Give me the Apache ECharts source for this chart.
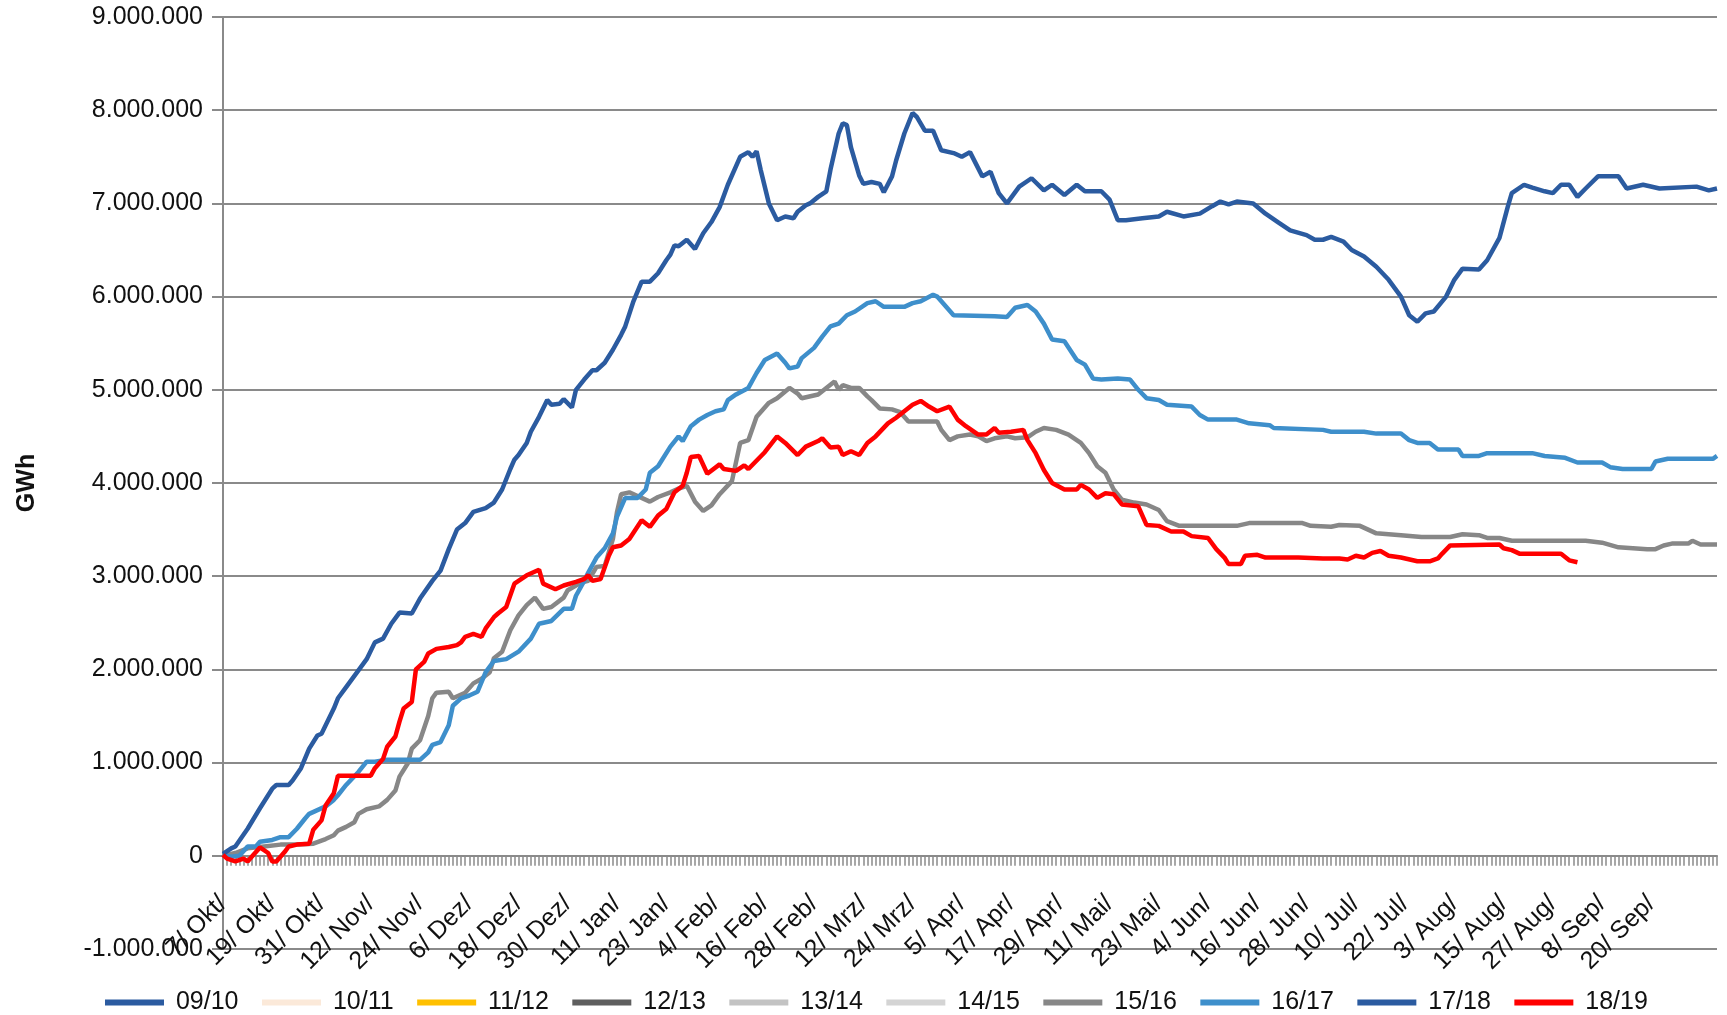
<!DOCTYPE html>
<html>
<head>
<meta charset="utf-8">
<title>Speicherstand GWh</title>
<script src="https://cdn.jsdelivr.net/npm/echarts@6/dist/echarts.min.js"></script>
<style>
	html, body { margin: 0; padding: 0; background: #fff; }
	#main { width: 1727px; height: 1015px; }
</style>
</head>
<body>
<div id="main"></div>
<script>
// x axis: one category per day, first day 7 Okt
var startDate = Date.UTC(2018, 9, 7);
var dayCount = 365;
var monthNames = ['Jan', 'Feb', 'Mrz', 'Apr', 'Mai', 'Jun', 'Jul', 'Aug', 'Sep', 'Okt', 'Nov', 'Dez'];

var seasons = ['09/10', '10/11', '11/12', '12/13', '13/14', '14/15', '15/16', '16/17', '17/18', '18/19'];
var seasonColors = ['#2b5ba0', '#fbe9d9', '#ffc000', '#5f5f5f', '#c3c3c3', '#d4d4d4', '#878787', '#3e8fcb', '#2b5ba0', '#ff0000'];

// [day index, value in million GWh]
var s1516 = [[0,0.0],[3,0.03],[6,0.08],[10,0.1],[14,0.12],[18,0.12],[22,0.13],[25,0.18],[27,0.22],[28,0.27],[30,0.31],[32,0.36],[33,0.45],[35,0.5],[38,0.53],[40,0.6],[42,0.7],[43,0.85],[45,0.99],[46,1.15],[48,1.24],[50,1.5],[51,1.69],[52,1.75],[55,1.76],[56,1.69],[59,1.75],[61,1.85],[63,1.9],[65,1.97],[66,2.12],[68,2.19],[70,2.42],[72,2.58],[74,2.69],[76,2.77],[78,2.65],[80,2.67],[83,2.77],[84,2.85],[86,2.9],[88,2.94],[89,2.95],[91,3.1],[93,3.11],[95,3.4],[96,3.69],[97,3.88],[99,3.9],[101,3.86],[102,3.84],[104,3.8],[106,3.85],[109,3.9],[111,3.94],[113,3.97],[115,3.8],[117,3.7],[119,3.76],[121,3.88],[124,4.02],[126,4.43],[128,4.46],[130,4.71],[133,4.86],[135,4.91],[138,5.02],[140,4.96],[141,4.91],[145,4.95],[147,5.02],[149,5.09],[150,5.0],[151,5.05],[153,5.02],[155,5.02],[157,4.93],[158,4.89],[160,4.8],[163,4.79],[165,4.76],[167,4.66],[174,4.66],[175,4.57],[177,4.46],[179,4.5],[182,4.52],[184,4.5],[186,4.45],[188,4.48],[191,4.5],[193,4.48],[196,4.49],[198,4.55],[200,4.59],[203,4.57],[206,4.52],[209,4.43],[211,4.32],[213,4.18],[215,4.11],[217,3.93],[219,3.82],[222,3.79],[225,3.77],[228,3.71],[230,3.59],[233,3.54],[247,3.54],[250,3.57],[263,3.57],[265,3.54],[270,3.53],[272,3.55],[277,3.54],[281,3.46],[287,3.44],[292,3.42],[299,3.42],[302,3.45],[306,3.44],[308,3.41],[311,3.41],[314,3.38],[332,3.38],[336,3.36],[340,3.31],[347,3.29],[349,3.29],[351,3.33],[353,3.35],[357,3.35],[358,3.38],[360,3.34],[364,3.34]];

var s1617 = [[0,0.01],[2,-0.01],[4,0.0],[6,0.1],[8,0.1],[9,0.15],[12,0.17],[14,0.2],[16,0.2],[18,0.29],[20,0.4],[21,0.45],[23,0.49],[25,0.53],[27,0.6],[28,0.65],[30,0.76],[33,0.9],[35,1.01],[37,1.01],[40,1.03],[44,1.03],[48,1.03],[50,1.11],[51,1.19],[53,1.22],[55,1.4],[56,1.61],[58,1.69],[60,1.72],[62,1.76],[64,1.97],[66,2.09],[69,2.11],[72,2.19],[75,2.33],[77,2.49],[80,2.52],[83,2.65],[85,2.65],[86,2.79],[88,2.95],[89,3.04],[91,3.2],[93,3.3],[95,3.46],[96,3.64],[98,3.84],[101,3.84],[103,3.93],[104,4.11],[106,4.18],[109,4.39],[111,4.5],[112,4.45],[114,4.61],[116,4.68],[118,4.73],[120,4.77],[122,4.79],[123,4.89],[125,4.95],[128,5.02],[130,5.18],[132,5.32],[135,5.39],[137,5.29],[138,5.23],[140,5.25],[141,5.34],[144,5.45],[146,5.57],[148,5.68],[150,5.71],[152,5.8],[154,5.84],[157,5.93],[159,5.95],[161,5.89],[166,5.89],[168,5.93],[170,5.95],[173,6.02],[174,6.0],[178,5.8],[188,5.79],[191,5.78],[193,5.88],[196,5.91],[198,5.84],[200,5.71],[202,5.54],[205,5.52],[208,5.32],[210,5.27],[212,5.12],[214,5.11],[218,5.12],[221,5.11],[223,5.0],[225,4.91],[228,4.89],[230,4.84],[236,4.82],[238,4.73],[240,4.68],[247,4.68],[250,4.64],[255,4.62],[256,4.59],[268,4.57],[270,4.55],[278,4.55],[281,4.53],[287,4.53],[289,4.46],[291,4.43],[294,4.43],[296,4.36],[301,4.36],[302,4.29],[306,4.29],[308,4.32],[319,4.32],[322,4.29],[327,4.27],[330,4.22],[336,4.22],[338,4.17],[341,4.15],[348,4.15],[349,4.23],[352,4.26],[363,4.26],[364,4.29]];

var s1718 = [[0,0.02],[2,0.08],[3,0.1],[6,0.29],[9,0.51],[12,0.72],[13,0.76],[16,0.76],[17,0.81],[19,0.94],[21,1.15],[23,1.29],[24,1.31],[27,1.58],[28,1.69],[30,1.81],[33,1.99],[35,2.11],[37,2.29],[39,2.33],[41,2.49],[43,2.61],[46,2.6],[48,2.76],[51,2.95],[53,3.06],[55,3.29],[57,3.5],[59,3.57],[61,3.69],[64,3.73],[66,3.79],[68,3.93],[70,4.15],[71,4.25],[72,4.3],[74,4.43],[75,4.55],[77,4.71],[79,4.89],[80,4.84],[82,4.85],[83,4.9],[85,4.81],[86,5.0],[88,5.11],[90,5.21],[91,5.21],[93,5.29],[95,5.43],[97,5.59],[98,5.68],[100,5.95],[102,6.16],[104,6.16],[106,6.25],[108,6.39],[109,6.45],[110,6.55],[111,6.54],[113,6.61],[115,6.51],[117,6.68],[119,6.8],[121,6.96],[123,7.2],[126,7.5],[128,7.55],[129,7.5],[130,7.56],[131,7.36],[133,7.0],[135,6.82],[137,6.86],[139,6.84],[140,6.91],[142,6.98],[143,7.0],[145,7.07],[147,7.13],[148,7.36],[150,7.75],[151,7.86],[152,7.84],[153,7.6],[155,7.3],[156,7.21],[158,7.23],[160,7.21],[161,7.12],[163,7.29],[164,7.46],[166,7.75],[168,7.97],[169,7.93],[171,7.78],[173,7.78],[175,7.57],[178,7.54],[180,7.5],[182,7.55],[185,7.29],[187,7.34],[189,7.11],[191,7.0],[194,7.18],[197,7.27],[200,7.14],[202,7.2],[205,7.09],[208,7.2],[210,7.13],[214,7.13],[216,7.04],[218,6.82],[220,6.82],[224,6.84],[228,6.86],[230,6.91],[234,6.86],[238,6.89],[241,6.97],[243,7.02],[245,6.99],[247,7.02],[251,7.0],[254,6.89],[257,6.8],[260,6.71],[264,6.66],[266,6.61],[268,6.61],[270,6.64],[273,6.59],[275,6.5],[278,6.43],[281,6.32],[284,6.18],[287,6.0],[289,5.8],[291,5.73],[293,5.82],[295,5.84],[298,6.0],[300,6.18],[302,6.3],[306,6.29],[308,6.39],[311,6.63],[313,6.96],[314,7.11],[317,7.2],[319,7.17],[322,7.13],[324,7.11],[326,7.2],[328,7.2],[330,7.07],[332,7.16],[335,7.29],[340,7.29],[342,7.16],[346,7.2],[350,7.16],[359,7.18],[362,7.14],[364,7.16]];

var s1819 = [[0,0.01],[1,-0.03],[3,-0.06],[5,-0.03],[6,-0.06],[7,-0.01],[9,0.09],[11,0.03],[12,-0.06],[13,-0.06],[15,0.04],[16,0.1],[18,0.12],[21,0.13],[22,0.28],[24,0.38],[25,0.54],[27,0.67],[28,0.86],[36,0.86],[37,0.94],[39,1.04],[40,1.17],[42,1.28],[43,1.44],[44,1.58],[46,1.65],[47,2.0],[49,2.08],[50,2.17],[52,2.22],[55,2.24],[57,2.26],[58,2.29],[59,2.35],[61,2.38],[63,2.35],[64,2.44],[66,2.56],[67,2.6],[69,2.67],[71,2.92],[74,3.01],[77,3.07],[78,2.92],[81,2.86],[83,2.9],[86,2.94],[88,2.97],[89,3.01],[90,2.95],[92,2.97],[94,3.22],[95,3.31],[97,3.33],[99,3.4],[102,3.6],[104,3.53],[106,3.65],[108,3.72],[110,3.9],[112,3.97],[113,4.11],[114,4.28],[116,4.29],[118,4.1],[121,4.2],[122,4.15],[125,4.13],[127,4.19],[128,4.15],[132,4.33],[135,4.5],[137,4.43],[140,4.3],[142,4.39],[145,4.45],[146,4.48],[148,4.38],[150,4.39],[151,4.3],[153,4.34],[155,4.3],[157,4.43],[159,4.5],[162,4.64],[164,4.7],[166,4.77],[168,4.84],[170,4.88],[172,4.82],[174,4.77],[177,4.82],[179,4.68],[181,4.61],[184,4.52],[186,4.52],[188,4.59],[189,4.54],[192,4.55],[195,4.57],[196,4.46],[198,4.32],[200,4.14],[202,4.0],[205,3.93],[208,3.93],[209,3.98],[211,3.93],[213,3.84],[215,3.89],[217,3.88],[219,3.77],[223,3.75],[225,3.55],[228,3.54],[231,3.48],[234,3.48],[236,3.43],[240,3.41],[242,3.29],[244,3.2],[245,3.13],[248,3.13],[249,3.22],[252,3.23],[254,3.2],[262,3.2],[268,3.19],[272,3.19],[274,3.18],[276,3.22],[278,3.2],[280,3.25],[282,3.27],[284,3.22],[287,3.2],[291,3.16],[294,3.16],[296,3.19],[297,3.24],[299,3.33],[311,3.34],[312,3.3],[314,3.28],[316,3.24],[326,3.24],[328,3.17],[330,3.15]];

// seasons without a visible line only show up in the legend
var seasonData = {
	'15/16': s1516,
	'16/17': s1617,
	'17/18': s1718,
	'18/19': s1819
};

showchart();

function showchart() {
	var myChart = echarts.init(document.getElementById('main'));

	var categories = [];
	for (var i = 0; i < dayCount; i++) {
		var d = new Date(startDate + i * 86400000);
		categories.push(d.getUTCDate() + '/ ' + monthNames[d.getUTCMonth()] + '/');
	}

	var font = '"Liberation Sans", Arial, sans-serif';
	var gridTop = 17;
	var gridBottom = 66;
	// x axis sits on the zero line, one step (of ten) above the grid bottom
	var zeroOffset = -(1015 - gridTop - gridBottom) / 10;

	var series = seasons.map(function(name, idx) {
		var pts = seasonData[name] || [];
		return {
			name: name,
			type: 'line',
			color: seasonColors[idx],
			showSymbol: false,
			symbol: 'none',
			lineStyle: { width: 4.5, color: seasonColors[idx] },
			data: pts.map(function(p) { return [p[0], p[1] * 1000000]; })
		};
	});

	var option = {
		animation: false,
		backgroundColor: '#fff',
		grid: {
			left: 223,
			right: 10,
			top: gridTop,
			bottom: gridBottom,
			containLabel: false,
			outerBoundsMode: 'none'
		},
		legend: {
			left: 100,
			top: 985,
			icon: 'rect',
			itemWidth: 59,
			itemHeight: 6,
			itemGap: 23.5,
			formatter: ' {name}',
			textStyle: {
				fontFamily: font,
				fontSize: 25,
				color: '#111'
			},
			data: seasons
		},
		xAxis: {
			type: 'category',
			boundaryGap: false,
			data: categories,
			offset: zeroOffset,
			axisLine: {
				onZero: false,
				lineStyle: { color: '#8a8a8a', width: 2 }
			},
			axisTick: {
				show: true,
				interval: 0,
				length: 10,
				lineStyle: { color: '#8a8a8a', width: 1.5 }
			},
			axisLabel: {
				interval: function(index) { return index % 12 === 0 && index <= 348; },
				rotate: 45,
				margin: 44,
				fontFamily: font,
				fontSize: 25,
				color: '#111'
			},
			splitLine: { show: false }
		},
		yAxis: {
			type: 'value',
			min: -1000000,
			max: 9000000,
			interval: 1000000,
			name: 'GWh',
			nameLocation: 'middle',
			nameRotate: 90,
			nameGap: 183,
			nameTextStyle: {
				fontFamily: font,
				fontSize: 25,
				fontWeight: 'bold',
				color: '#111'
			},
			axisLine: {
				show: true,
				lineStyle: { color: '#8a8a8a', width: 2 }
			},
			axisTick: {
				show: true,
				length: 11,
				lineStyle: { color: '#8a8a8a', width: 2 }
			},
			axisLabel: {
				margin: 20,
				fontFamily: font,
				fontSize: 25,
				color: '#111',
				formatter: function(v) {
					return String(v).replace(/\B(?=(\d{3})+(?!\d))/g, '.');
				}
			},
			splitLine: {
				lineStyle: { color: '#8a8a8a', width: 2 }
			}
		},
		series: series
	};

	myChart.setOption(option, true);
	window.onresize = function() {
		myChart.resize();
	};
}
</script>
</body>
</html>
